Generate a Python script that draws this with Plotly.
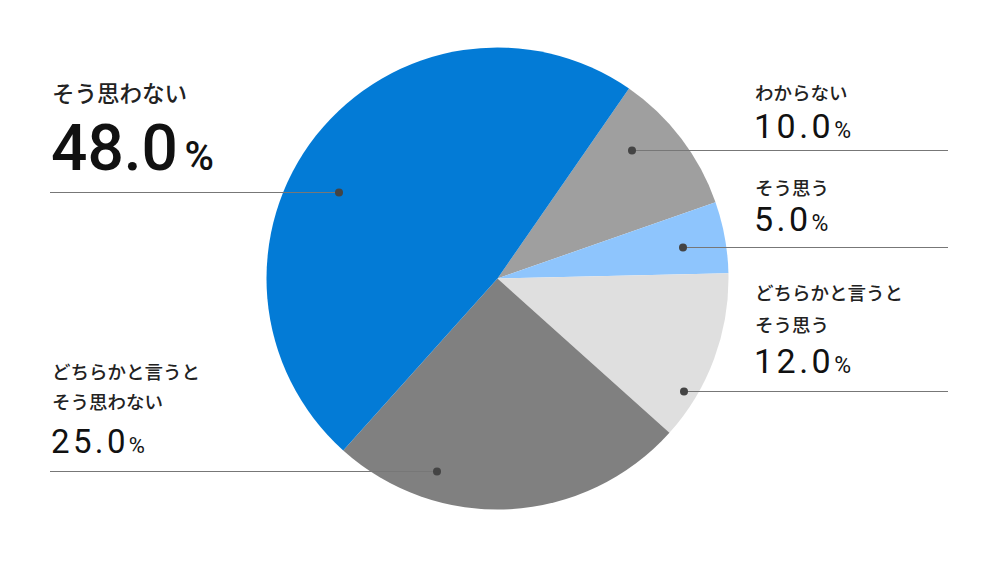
import plotly.graph_objects as go

# ---- data ----
categories = ["わからない", "そう思う", "どちらかと言うとそう思う", "どちらかと言うとそう思わない", "そう思わない"]
values = [10.0, 5.0, 12.0, 25.0, 48.0]
label_lines = [["わからない"], ["そう思う"], ["どちらかと言うと", "そう思う"],
               ["どちらかと言うと", "そう思わない"], ["そう思わない"]]
colors = ["#9f9f9f", "#8ec5fd", "#dfdfdf", "#808080", "#037bd6"]

W, H = 1000, 564
OFF = 8  # page body margin
CX, CY, R = 497.5, 278.5, 231

def px(x):
    return (x - OFF) / W

def py(y):
    return 1 - (y - OFF) / H

fig = go.Figure(go.Pie(
    labels=categories, values=values, sort=False, direction="clockwise",
    rotation=34.7, marker=dict(colors=colors, line=dict(width=0)),
    textinfo="none", hoverinfo="label+percent", showlegend=False,
    domain=dict(x=[px(CX - R), px(CX + R)], y=[py(CY + R), py(CY - R)]),
))

JP = "Noto Sans CJK JP"
NUM = "Roboto, sans-serif"
TXT = "#222222"
SP = "\u200a"

# (side, text x, label line centers, number center y, number size, pct size, line y, dot x, jp size, num weight, spaced)
cfg = {
    "わからない": ("R", 753, [92], 125.5, 34, 23, 150.5, 632, 18.5, 400, True),
    "そう思う": ("R", 753, [187], 218.5, 34, 23, 247.5, 683, 18.5, 400, True),
    "どちらかと言うとそう思う": ("R", 753, [292, 324], 360.5, 34, 23, 391.5, 684, 18.5, 400, True),
    "どちらかと言うとそう思わない": ("L", 50, [371, 401], 441.5, 33, 22, 471.5, 437, 18.5, 400, True),
    "そう思わない": ("L", 50, [92], 148.5, 64, 40, 192.5, 339, 22.5, 500, False),
}

annotations = []
shapes = []
for cat, val, lines in zip(categories, values, label_lines):
    side, tx, ly, ny, ns, ps, liney, dotx, js, nw, spaced = cfg[cat]
    for t, y in zip(lines, ly):
        annotations.append(dict(
            text=t, x=px(tx), y=py(y), xref="paper", yref="paper",
            xanchor="left", yanchor="middle", showarrow=False,
            font=dict(family=JP, size=js, color=TXT, weight=500)))
    num = f"{val:.1f}"
    if spaced:
        num = SP.join(num)
    annotations.append(dict(
        text=f"{num}{SP}<span style='font-size:{ps}px'>%</span>",
        x=px(tx - 1), y=py(ny), xref="paper", yref="paper",
        xanchor="left", yanchor="middle", showarrow=False,
        font=dict(family=NUM, size=ns, color="#111111", weight=nw)))
    if side == "L":
        x0, x1 = 50, dotx
    else:
        x0, x1 = dotx, 948
    shapes.append(dict(type="line", xref="paper", yref="paper",
                       x0=px(x0), x1=px(x1), y0=py(liney), y1=py(liney),
                       line=dict(color="#777777", width=1)))
    shapes.append(dict(type="circle", xref="paper", yref="paper",
                       xsizemode="pixel", ysizemode="pixel",
                       xanchor=px(dotx), yanchor=py(liney),
                       x0=-4, x1=4, y0=-4, y1=4,
                       fillcolor="#444444", line=dict(width=0)))

fig.update_layout(
    width=W, height=H, margin=dict(l=0, r=0, t=0, b=0),
    paper_bgcolor="white", plot_bgcolor="white",
    annotations=annotations, shapes=shapes,
)
fig.write_html("out.html")
